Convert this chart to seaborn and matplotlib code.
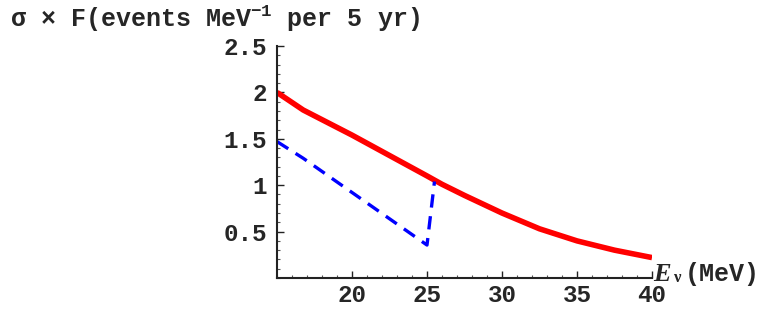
import matplotlib
matplotlib.use('Agg')
import matplotlib.pyplot as plt
import seaborn as sns
import pandas as pd
from matplotlib.ticker import MultipleLocator

# values
red_E = [15, 16.75, 20, 22.5, 25, 26, 27.5, 30, 32.5, 35, 37.5, 40]
red_y = [2.00, 1.81, 1.54, 1.32, 1.10, 1.01, 0.89, 0.70, 0.53, 0.40, 0.30, 0.22]
blue_E = [15, 16.75, 25, 25.5]
blue_y = [1.47, 1.29, 0.355, 1.04]
x_ticks = [20, 25, 30, 35, 40]
y_ticks = [0.5, 1, 1.5, 2, 2.5]
y_ticklabels = ['0.5', '1', '1.5', '2', '2.5']

sns.set_style('ticks')
plt.rcParams['font.family'] = ['Liberation Mono', 'DejaVu Sans']
plt.rcParams['font.weight'] = 'bold'
plt.rcParams['mathtext.fontset'] = 'custom'
plt.rcParams['mathtext.rm'] = 'Liberation Mono:bold'
plt.rcParams['mathtext.it'] = 'Liberation Mono:bold'
plt.rcParams['mathtext.bf'] = 'Liberation Mono:bold'

red = pd.DataFrame({'E': red_E, 'y': red_y})
blue = pd.DataFrame({'E': blue_E, 'y': blue_y})

fig = plt.figure(figsize=(7.64, 3.09), dpi=100)
ax = fig.add_axes([277 / 764, 1 - 278 / 309, (652 - 277) / 764, (278 - 46) / 309])

sns.lineplot(data=red, x='E', y='y', ax=ax, color='#ff0000', lw=4,
             sort=False, estimator=None, solid_capstyle='butt')
sns.lineplot(data=blue, x='E', y='y', ax=ax, color='#0000ff', lw=2.4,
             sort=False, estimator=None, dashes=False)
ax.lines[-1].set_dashes([4, 2.6])

ax.set_xlim(15, 40)
ax.set_ylim(0, 2.5)
ax.set_xticks(x_ticks)
ax.set_yticks(y_ticks)
ax.set_yticklabels(y_ticklabels)
ax.xaxis.set_minor_locator(MultipleLocator(1))
ax.yaxis.set_minor_locator(MultipleLocator(0.1))
ax.tick_params(which='major', direction='in', length=5, width=1, color='#222222',
               labelsize=17.5)
ax.tick_params(axis='y', which='major', pad=7)
ax.tick_params(axis='x', which='major', pad=4)
ax.tick_params(which='minor', direction='in', length=2.5, width=0.8, color='#555555')
ax.set_xlabel('')
ax.set_ylabel('')
for s in ['top', 'right']:
    ax.spines[s].set_visible(False)
for s in ['left', 'bottom']:
    ax.spines[s].set_linewidth(1.5)
    ax.spines[s].set_color('#222222')

fig.text(10 / 764, 1 - 27 / 309, 'σ × F(events MeV$^{-1}$ per 5 yr)',
         fontsize=18, fontweight='bold', ha='left', va='baseline')
fig.text(653 / 764, 1 - 281 / 309, 'E', fontsize=19, fontweight='bold',
         style='italic', family='Liberation Serif', ha='left', va='baseline')
fig.text(673 / 764, 1 - 282 / 309, 'ν', fontsize=12, family='Liberation Serif',
         ha='left', va='baseline')
fig.text(685 / 764, 1 - 281 / 309, '(MeV)', fontsize=18, fontweight='bold',
         ha='left', va='baseline')

fig.savefig('out.png', dpi=100, facecolor='white')
